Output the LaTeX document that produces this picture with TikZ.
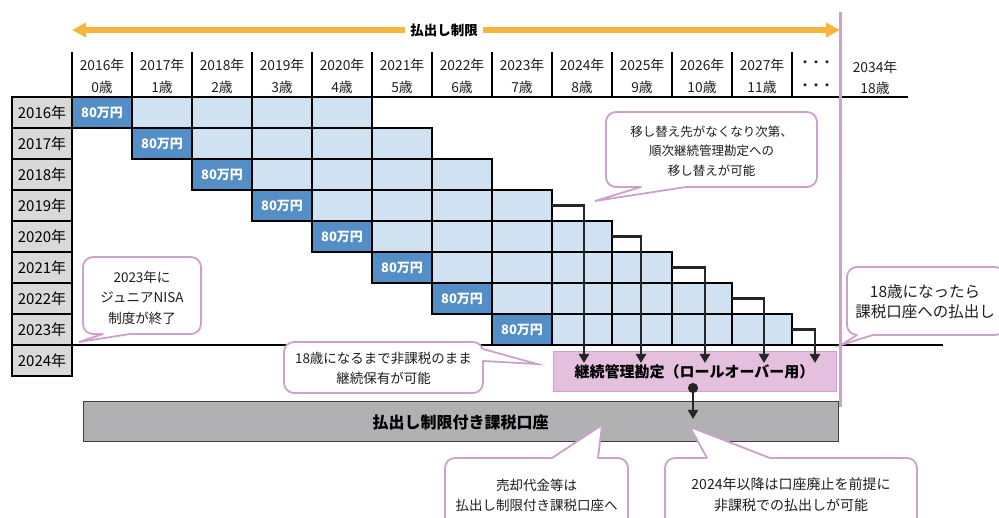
\documentclass[tikz,border=0pt]{standalone}
\usepackage{fontspec}
\setmainfont{Noto Sans CJK JP}
\usetikzlibrary{arrows.meta}
\definecolor{lblue}{RGB}{208,226,241}
\definecolor{dblue}{RGB}{84,142,198}
\definecolor{lgray}{RGB}{217,217,217}
\definecolor{pinkfill}{RGB}{229,192,222}
\definecolor{pinkline}{RGB}{206,160,204}
\definecolor{gbox}{RGB}{177,177,179}
\definecolor{orng}{RGB}{245,182,60}
\definecolor{darkarr}{RGB}{38,38,38}
\definecolor{txt}{RGB}{30,30,30}
\newcommand\mycallout[4]{%
  \draw[callout] #1;
  \fill[white] #2 -- #3 -- #4 -- cycle;
  \draw[white, line width=2.8pt] #2 -- #4;
  \draw[calloutline] #2 -- #3 -- #4;
}
\begin{document}
\begin{tikzpicture}[x=1pt,y=-1pt,
  cell/.style={draw=black, line width=2pt, fill=lblue, minimum width=60pt, minimum height=31pt, inner sep=0pt, outer sep=0pt, anchor=north west},
  firstcell/.style={cell, fill=dblue, text=white, font=\fontsize{13}{15}\selectfont\bfseries},
  rowlab/.style={draw=black, line width=2pt, fill=lgray, minimum width=60pt, minimum height=31pt, inner sep=0pt, outer sep=0pt, anchor=north west, font=\fontsize{15}{17}\selectfont, text=black},
  hdr/.style={font=\fontsize{13.8}{15}\selectfont, inner sep=0pt, text=txt},
  sep/.style={draw=black, line width=2pt},
  arr/.style={draw=darkarr, line width=2.8pt, -{Triangle[length=9pt,width=10pt]}},
  callout/.style={draw=pinkline, line width=1.8pt, fill=white, rounded corners=10pt},
  calloutline/.style={draw=pinkline, line width=1.8pt, line join=miter, line cap=round},
  ctext/.style={align=center, inner sep=0pt, text=txt},
]
\useasboundingbox (0,0) rectangle (999,518);
\clip (0,0) rectangle (999,518);

% orange limit arrow
\coordinate (oL) at (72,30);
\coordinate (oR) at (840,30);
\draw[orng, line width=6pt, {Triangle[length=14pt,width=14pt]}-{Triangle[length=14pt,width=14pt]}] (oL) -- (oR);
\node[fill=white, inner xsep=5pt, inner ysep=2pt, font=\fontsize{13.5}{15}\selectfont\bfseries] (lim) at (444,30) {払出し制限};

% header
\foreach \j in {0,...,11}{
  \pgfmathtruncatemacro\yr{2016+\j}
  \node[hdr] (hy-\j) at ({102+60*\j},65) {{\yr}年};
  \node[hdr] (ha-\j) at ({102+60*\j},87) {{\j}歳};
}
\node[hdr, font=\fontsize{11}{13}\selectfont\bfseries] (hd1) at (816,64) {・・・};
\node[hdr, font=\fontsize{11}{13}\selectfont\bfseries] (hd2) at (816,87) {・・・};
\node[hdr] (hy-end) at (875,67) {2034年};
\node[hdr] (ha-end) at (875,88) {18歳};
\foreach \j in {0,...,12}{
  \draw[sep] ({72+60*\j},52) -- ({72+60*\j},97);
}
\draw[sep] (12,97) -- (908,97);

% cells
\foreach \r in {0,...,7}{
  \foreach \k in {1,...,4}{
    \pgfmathtruncatemacro\c{\r+\k}
    \node[cell] (c-\r-\c) at ({72+60*\c},{97+31*\r}) {};
  }
  \node[firstcell] (c-\r-\r) at ({72+60*\r},{97+31*\r}) {80万円};
}

% row labels
\foreach \r in {0,...,8}{
  \pgfmathtruncatemacro\yr{2016+\r}
  \node[rowlab] (y-\r) at (12,{97+31*\r}) {{\yr}年};
}

\draw[sep] (72,345) -- (943,345);

% boxes
\node[draw=pinkline, fill=pinkfill, line width=1pt, minimum width=283pt, minimum height=40pt, inner sep=0pt, font=\fontsize{15}{17}\selectfont\bfseries, text=black] (roll) at (694.5,372) {継続管理勘定（ロールオーバー用）};
\node[draw=black!75, fill=gbox, line width=1pt, minimum width=755pt, minimum height=40pt, inner sep=0pt, font=\fontsize{16}{18}\selectfont\bfseries, text=black] (tax) at (460.5,422) {払出し制限付き課税口座};

% pink vertical
\draw[pinkline, line width=3pt] (840,12) -- (840,407);

% rollover arrows
\foreach \r/\c/\tx in {3/7/584, 4/8/641, 5/9/705, 6/10/764, 7/11/815}{
  \coordinate (t\r) at (\tx,363);
  \draw[arr] (c-\r-\c.east) -| (t\r);
}
\coordinate (d1) at (693,383);
\coordinate (d2) at (693,419);
\draw[darkarr, line width=2.8pt, {Circle[length=10pt]}-{Triangle[length=9pt,width=10pt]}] (d1) -- (d2);

% callouts
\mycallout{(606,112) rectangle (817,187)}{(641,187)}{(595,201)}{(686,187)}
\node[ctext, font=\fontsize{12.5}{19.5}\selectfont] (co1) at (711.5,151) {移し替え先がなくなり次第、\\順次継続管理勘定への\\移し替えが可能};

\mycallout{(83,257) rectangle (201,334)}{(103,334)}{(79,342)}{(130,334)}
\node[ctext, font=\fontsize{13.5}{20.5}\selectfont] (co2) at (142,297.5) {2023年に\\ジュニアNISA\\制度が終了};

\mycallout{(284,342) rectangle (483,393)}{(483,349)}{(537,364)}{(483,361)}
\node[ctext, font=\fontsize{13.5}{20}\selectfont] (co3) at (383.5,368) {18歳になるまで非課税のまま\\継続保有が可能};

\mycallout{(847,267) rectangle (1005,335)}{(857,335)}{(841,345)}{(873,335)}
\node[ctext, font=\fontsize{15.5}{20}\selectfont] (co4) at (925,302) {18歳になったら\\課税口座への払出し};

\mycallout{(445,458) rectangle (628,540)}{(552,458)}{(602,425)}{(598,458)}
\node[ctext, font=\fontsize{13.5}{20}\selectfont] (co5) at (536.5,495) {売却代金等は\\払出し制限付き課税口座へ};

\mycallout{(665,458) rectangle (917,540)}{(707,458)}{(690,427)}{(770,458)}
\node[ctext, font=\fontsize{14}{20.5}\selectfont] (co6) at (791,494.5) {2024年以降は口座廃止を前提に\\非課税での払出しが可能};
\end{tikzpicture}
\end{document}
